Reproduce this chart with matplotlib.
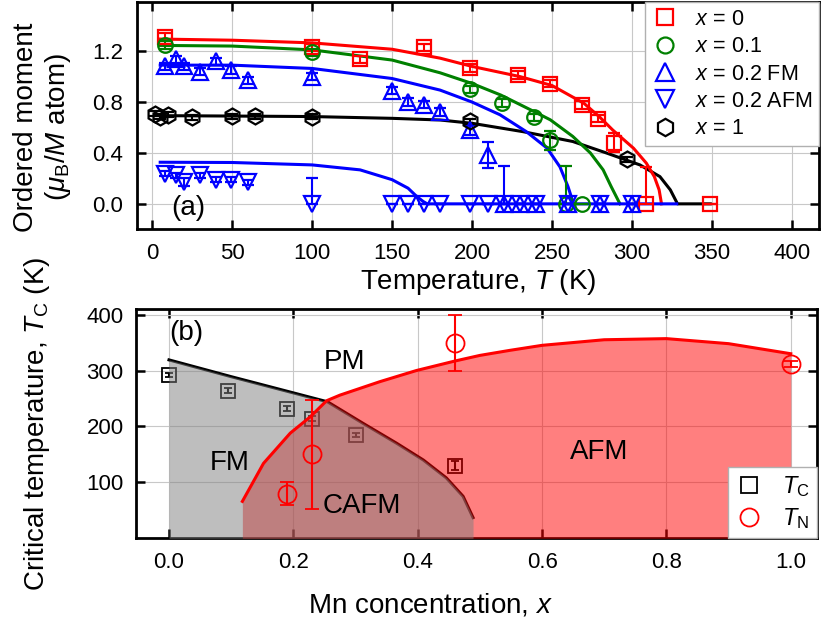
import numpy as np
import matplotlib
matplotlib.use("Agg")
import matplotlib.pyplot as plt
from matplotlib.lines import Line2D

plt.rcParams['font.family'] = ['Liberation Sans', 'DejaVu Sans']
plt.rcParams['mathtext.fontset'] = 'custom'
plt.rcParams['mathtext.rm'] = 'Liberation Sans'
plt.rcParams['mathtext.it'] = 'Liberation Sans:italic'
plt.rcParams['mathtext.bf'] = 'Liberation Sans:bold'

# ---- panel (a): ordered moment vs temperature ----
t_x0 = [8, 100, 130, 170, 199, 229, 249, 269, 279, 289, 309, 349]
m_x0 = [1.31, 1.23, 1.135, 1.23, 1.07, 1.015, 0.945, 0.775, 0.67, 0.48, 0.0, 0.0]
lo_x0 = [0.03, 0.03, 0.03, 0.03, 0.03, 0.03, 0.03, 0.03, 0.03, 0.075, 0.0, 0.0]
hi_x0 = [0.03, 0.03, 0.03, 0.03, 0.03, 0.03, 0.03, 0.03, 0.03, 0.075, 0.29, 0.0]

t_x01 = [8, 100, 199, 219, 239, 249, 259, 269]
m_x01 = [1.25, 1.19, 0.90, 0.795, 0.68, 0.50, 0.0, 0.0]
lo_x01 = [0.03, 0.03, 0.03, 0.03, 0.03, 0.075, 0.0, 0.0]
hi_x01 = [0.03, 0.03, 0.03, 0.03, 0.03, 0.075, 0.30, 0.0]

t_fm = [8, 15, 20, 30, 40, 49, 60, 100, 150, 160, 170, 180, 199, 210, 220, 230, 240, 260, 280, 300]
m_fm = [1.08, 1.135, 1.08, 1.04, 1.12, 1.05, 0.97, 1.00, 0.89, 0.80, 0.78, 0.72, 0.58, 0.385,
        0, 0, 0, 0, 0, 0]
e_fm = [0.03, 0.03, 0.03, 0.03, 0.03, 0.03, 0.03, 0.03, 0.03, 0.03, 0.03, 0.03, 0.04, 0.10,
        0, 0, 0, 0, 0, 0]

t_afm = [8, 15, 20, 30, 40, 49, 60, 100, 150, 160, 170, 180, 199, 210, 220, 230, 240, 260, 280, 300]
m_afm = [0.235, 0.225, 0.17, 0.225, 0.19, 0.19, 0.17, 0, 0, 0, 0, 0, 0, 0, 0, 0, 0, 0, 0, 0]
lo_afm = [0.02, 0.02, 0.03, 0.02, 0.02, 0.02, 0.02, 0, 0, 0, 0, 0, 0, 0, 0, 0, 0, 0, 0, 0]
hi_afm = [0.02, 0.02, 0.03, 0.02, 0.02, 0.02, 0.02, 0.20, 0, 0, 0, 0, 0, 0, 0.30, 0, 0, 0, 0, 0]

t_x1 = [2, 5, 10, 25, 50, 64, 100, 199, 297]
m_x1 = [0.71, 0.685, 0.70, 0.68, 0.69, 0.69, 0.685, 0.65, 0.35]
e_x1 = [0.02, 0.02, 0.02, 0.02, 0.02, 0.02, 0.02, 0.02, 0.02]

# fitted curves
fit_t_x0 = [5, 50, 100, 150, 180, 200, 230, 250, 270, 280, 288, 301, 309, 314, 317, 318.5]
fit_m_x0 = [1.295, 1.286, 1.265, 1.215, 1.145, 1.08, 1.0, 0.93, 0.79, 0.68, 0.58, 0.437, 0.32,
            0.214, 0.11, 0.0]
fit_t_x01 = [5, 50, 100, 150, 180, 200, 218, 239, 249, 263, 274, 282, 287, 292.5]
fit_m_x01 = [1.245, 1.24, 1.21, 1.13, 1.03, 0.946, 0.855, 0.724, 0.66, 0.53, 0.40, 0.267, 0.136, 0.0]
fit_t_fm = [5, 50, 100, 150, 180, 200, 217.5, 234, 247, 255, 260, 263.5]
fit_m_fm = [1.09, 1.09, 1.064, 0.985, 0.894, 0.80, 0.70, 0.567, 0.437, 0.29, 0.136, 0.0]
fit_t_afm = [5, 50, 100, 130, 150, 160, 165.5, 169.5, 172, 250, 328]
fit_m_afm = [0.327, 0.325, 0.306, 0.267, 0.19, 0.123, 0.057, 0.018, 0.0, 0.0, 0.0]
fit_t_x1 = [5, 50, 100, 150, 180, 200, 232, 263, 284, 305, 317.5, 324, 328.5, 349]
fit_m_x1 = [0.693, 0.69, 0.686, 0.672, 0.659, 0.633, 0.567, 0.49, 0.40, 0.306, 0.214, 0.11, 0.0, 0.0]

# ---- panel (b): phase diagram ----
tc_x = [0.0, 0.095, 0.19, 0.23, 0.30, 0.46]
tc_val = [292, 264, 232, 214, 185, 130]
tc_err = [4, 4, 4, 4, 4, 8]
tn_x = [0.19, 0.23, 0.46, 1.0]
tn_val = [80, 150, 350, 312]
tn_err = [20, 98, 50, 5]

tc_line_x = [0.0, 0.1, 0.2, 0.255, 0.312, 0.366, 0.409, 0.446, 0.473, 0.489]
tc_line_t = [319, 289, 260, 244, 205.6, 170, 140, 108, 75, 37]
tn_line_x = [0.118, 0.152, 0.195, 0.227, 0.2535, 0.275, 0.339, 0.398, 0.46, 0.5, 0.548,
             0.6, 0.7, 0.8, 0.9, 1.0]
tn_line_t = [66, 134, 188, 217, 246, 256, 280, 300, 317, 327, 336, 345, 355, 357, 348, 330]

RED, GREEN, BLUE = '#ff0000', '#008000', '#0000ff'
TICK_FS, LABEL_FS, TEXT_FS, LEG_FS = 16, 20, 20, 15.5


def style_axes(ax):
    ax.tick_params(direction='in', length=6.5, width=1.8, top=True, right=True,
                   labelsize=TICK_FS, pad=10)
    for s in ax.spines.values():
        s.set_linewidth(2)
    ax.grid(True, color='#c8c8c8', linewidth=0.8)
    ax.set_axisbelow(True)


fig = plt.figure(figsize=(8.21, 6.35), dpi=100)
ax1 = fig.add_axes([0.1669, 0.6389, 0.8307, 0.3577])
ax2 = fig.add_axes([0.1657, 0.1523, 0.8293, 0.3611])

# --- panel (a)
ax1.plot(fit_t_x1, fit_m_x1, color='black', lw=2.2, zorder=3)
ax1.plot(fit_t_x0, fit_m_x0, color=RED, lw=2.2, zorder=3)
ax1.plot(fit_t_x01, fit_m_x01, color=GREEN, lw=2.2, zorder=3)
ax1.plot(fit_t_fm, fit_m_fm, color=BLUE, lw=2.2, zorder=3)
ax1.plot(fit_t_afm, fit_m_afm, color=BLUE, lw=2.2, zorder=3)

common = dict(mfc='none', mew=1.6, elinewidth=1.5, capsize=4, capthick=1.5, ls='none', zorder=4)
ax1.errorbar(t_x0, m_x0, yerr=[lo_x0, hi_x0], fmt='s', ms=10, mec=RED, ecolor=RED, **common)
ax1.errorbar(t_x01, m_x01, yerr=[lo_x01, hi_x01], fmt='o', ms=10.5, mec=GREEN, ecolor=GREEN, **common)
ax1.errorbar(t_fm, m_fm, yerr=e_fm, fmt='^', ms=12, mec=BLUE, ecolor=BLUE, **common)
ax1.errorbar(t_afm, m_afm, yerr=[lo_afm, hi_afm], fmt='v', ms=12, mec=BLUE, ecolor=BLUE, **common)
ax1.errorbar(t_x1, m_x1, yerr=e_x1, fmt='h', ms=11.5, mec='black', ecolor='black', **common)

ax1.set_xlim(-9.5, 417)
ax1.set_ylim(-0.2, 1.585)
ax1.set_xticks(np.arange(0, 401, 50))
ax1.set_yticks([0.0, 0.4, 0.8, 1.2])
ax1.set_yticklabels(['0.0', '0.4', '0.8', '1.2'])
style_axes(ax1)
ax1.set_xlabel("Temperature, $T$ (K)", fontsize=LABEL_FS)
ax1.xaxis.set_label_coords(0.5, -0.165, transform=ax1.transAxes)
ax1.xaxis.label.set_va('top')
ax1.set_ylabel("Ordered moment\n($\\mu_\\mathrm{B}$/$M$ atom)", fontsize=LABEL_FS)
ax1.yaxis.set_label_coords(-0.094, 0.45)
ax1.text(22.7, -0.03, "(a)", fontsize=TEXT_FS, ha='center', va='center')

leg_handles = [
    Line2D([], [], marker='s', ls='none', ms=11, mfc='none', mec=RED, mew=1.6),
    Line2D([], [], marker='o', ls='none', ms=11.5, mfc='none', mec=GREEN, mew=1.6),
    Line2D([], [], marker='^', ls='none', ms=12.5, mfc='none', mec=BLUE, mew=1.6),
    Line2D([], [], marker='v', ls='none', ms=12.5, mfc='none', mec=BLUE, mew=1.6),
    Line2D([], [], marker='h', ls='none', ms=12.5, mfc='none', mec='black', mew=1.6),
]
leg_labels = ["$x$ = 0", "$x$ = 0.1", "$x$ = 0.2 FM", "$x$ = 0.2 AFM", "$x$ = 1"]
leg1 = ax1.legend(leg_handles, leg_labels, loc='upper right', bbox_to_anchor=(1, 1),
                  borderaxespad=0, fontsize=LEG_FS, frameon=True, fancybox=False,
                  edgecolor='#b0b0b0', framealpha=1, labelspacing=0.3,
                  handletextpad=0.8, handlelength=1.2, borderpad=0.3)
leg1.get_frame().set_linewidth(1)
leg1.set_zorder(6)

# --- panel (b)
ax2.errorbar(tc_x, tc_val, yerr=tc_err, fmt='s', ms=10, mfc='none', mec='black', mew=1.3,
             ecolor='black', elinewidth=1.5, capsize=3, capthick=1.5, ls='none', zorder=2.6)
ax2.plot(tc_line_x, tc_line_t, color='black', lw=2.2, zorder=2.7)
ax2.fill_between(tn_line_x, 0, tn_line_t, color=RED, alpha=0.5, lw=0, zorder=3)
ax2.fill_between(tc_line_x, 0, tc_line_t, color='#7f7f7f', alpha=0.5, lw=0, zorder=3.1)
ax2.plot(tn_line_x, tn_line_t, color=RED, lw=2.2, zorder=4)
ax2.errorbar(tn_x, tn_val, yerr=tn_err, fmt='o', ms=13, mfc='none', mec=RED, mew=1.3,
             ecolor=RED, elinewidth=1.5, capsize=5, capthick=1.5, ls='none', zorder=4)

ax2.set_xlim(-0.053, 1.042)
ax2.set_ylim(0, 410)
ax2.set_xticks([0.0, 0.2, 0.4, 0.6, 0.8, 1.0])
ax2.set_xticklabels(['0.0', '0.2', '0.4', '0.6', '0.8', '1.0'])
ax2.set_yticks([100, 200, 300, 400])
style_axes(ax2)
ax2.tick_params(axis='y', pad=9)
ax2.set_xlabel("Mn concentration, $x$", fontsize=LABEL_FS)
ax2.xaxis.set_label_coords(0.432, -0.234, transform=ax2.transAxes)
ax2.xaxis.label.set_va('top')
ax2.set_ylabel("Critical temperature, $T_\\mathrm{C}$ (K)", fontsize=LABEL_FS)
ax2.yaxis.set_label_coords(-0.123, 0.5)

ax2.text(0.028, 367, "(b)", fontsize=TEXT_FS, ha='center', va='center', zorder=5)
ax2.text(0.283, 315, "PM", fontsize=TEXT_FS, ha='center', va='center', zorder=5)
ax2.text(0.098, 134, "FM", fontsize=TEXT_FS, ha='center', va='center', zorder=5)
ax2.text(0.31, 57, "CAFM", fontsize=TEXT_FS, ha='center', va='center', zorder=5)
ax2.text(0.692, 155, "AFM", fontsize=TEXT_FS, ha='center', va='center', zorder=5)

leg2_handles = [
    Line2D([], [], marker='s', ls='none', ms=11, mfc='none', mec='black', mew=1.3),
    Line2D([], [], marker='o', ls='none', ms=13, mfc='none', mec=RED, mew=1.3),
]
leg2 = ax2.legend(leg2_handles, ["$T_\\mathrm{C}$", "$T_\\mathrm{N}$"], loc='lower right',
                  bbox_to_anchor=(1, 0), borderaxespad=0, fontsize=17, frameon=True,
                  fancybox=False, edgecolor='#b0b0b0', framealpha=1, labelspacing=0.3,
                  handletextpad=0.8, handlelength=1.2, borderpad=0.3)
leg2.get_frame().set_linewidth(1)
leg2.set_zorder(6)

fig.savefig("out.png", dpi=100)
